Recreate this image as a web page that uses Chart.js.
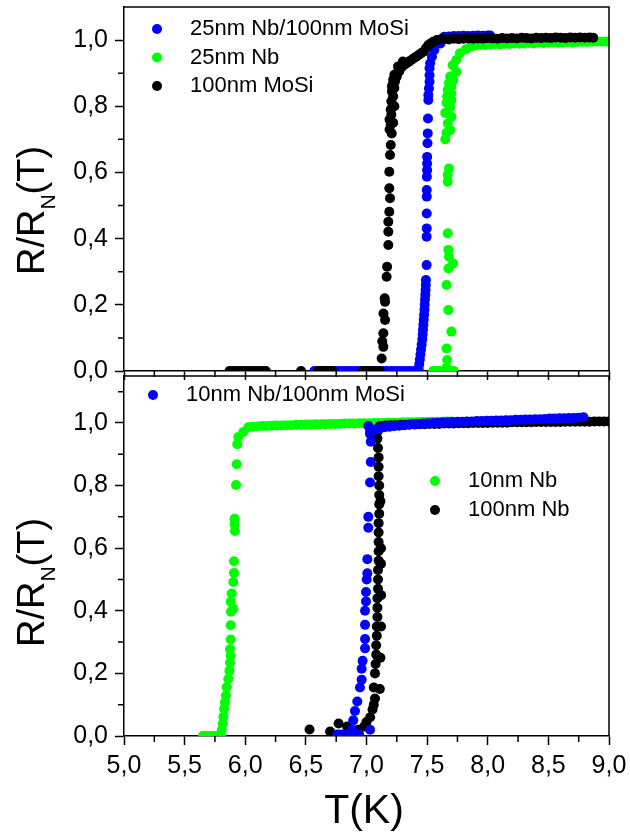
<!DOCTYPE html>
<html lang="en">
<head>
<meta charset="UTF-8">
<title>R/RN(T) transitions</title>
<script src="https://cdn.jsdelivr.net/npm/chart.js@4.4.0/dist/chart.umd.min.js"></script>
<style>
  body { margin: 0; background: #fff; }
  #wrap { position: relative; width: 630px; height: 832px; }
  #wrap canvas { position: absolute; left: 0; }
  #topCanvas { top: 0; }
  #bottomCanvas { top: 371px; }
</style>
</head>
<body>
<div id="wrap">
  <canvas id="bottomCanvas" width="630" height="461"></canvas>
  <canvas id="topCanvas" width="630" height="400"></canvas>
</div>
<script>
const FONT = '"Liberation Sans", Arial, sans-serif';
const BLUE = '#0000ff', GREEN = '#00ff00', BLACK = '#000000';

// axis ticks
const xMajorStep = 0.5;
const xMinorTicks = [5.25, 5.75, 6.25, 6.75, 7.25, 7.75, 8.25, 8.75];
const yMinorTop = [0.1, 0.3, 0.5, 0.7, 0.9];
const yMinorBottom = [0.1, 0.3, 0.5, 0.7, 0.9, 1.1];

// ---- top panel: [T (K), R/RN] ----
const nb25MoSi = [
  [6.57,0],[6.60,0],[6.63,0],[6.66,0],[6.69,0],[6.72,0],[6.75,0],[6.78,0],[6.81,0],[6.84,0],[6.87,0],[6.90,0],
  [6.93,0],[6.96,0],[6.99,0],[7.02,0],[7.05,0],[7.08,0],[7.11,0],[7.14,0],[7.17,0],[7.20,0],[7.23,0],[7.26,0],
  [7.29,0],[7.32,0],[7.35,0],[7.38,0],[7.41,0],
  [7.43,0.005],[7.435,0.02],[7.44,0.035],[7.445,0.05],[7.45,0.065],[7.455,0.08],[7.46,0.095],[7.463,0.11],
  [7.466,0.125],[7.469,0.14],[7.472,0.155],[7.475,0.17],[7.478,0.185],[7.48,0.20],[7.482,0.215],[7.485,0.23],
  [7.487,0.245],[7.489,0.26],[7.49,0.275],
  [7.496,0.32],[7.496,0.406],[7.497,0.431],[7.497,0.476],[7.497,0.527],[7.497,0.547],[7.498,0.587],[7.5,0.607],
  [7.5,0.627],[7.5,0.647],[7.503,0.688],[7.505,0.718],[7.507,0.763],[7.51,0.819],[7.51,0.834],[7.515,0.854],
  [7.52,0.874],[7.52,0.894],[7.52,0.915],[7.525,0.93],[7.54,0.95],[7.56,0.97],[7.61,0.99],
  [7.64,1.01],[7.68,1.011],[7.72,1.012],[7.76,1.012],[7.80,1.013],[7.84,1.012],[7.88,1.013],[7.92,1.014],
  [7.96,1.013],[8.00,1.014],[8.02,1.014]
];
const nb25 = [
  [7.55,0],[7.58,0],[7.61,0],[7.64,0],[7.67,0],[7.70,0],[7.72,0],
  [7.66,0.01],[7.665,0.033],[7.66,0.068],[7.70,0.119],[7.675,0.184],[7.66,0.26],[7.675,0.31],[7.715,0.325],
  [7.68,0.345],[7.675,0.366],[7.67,0.416],[7.67,0.572],[7.67,0.592],[7.68,0.612],[7.65,0.70],[7.66,0.72],
  [7.69,0.728],[7.67,0.748],[7.70,0.768],[7.65,0.78],[7.69,0.798],[7.66,0.81],[7.70,0.819],[7.665,0.83],
  [7.70,0.839],[7.67,0.85],[7.70,0.859],[7.68,0.87],[7.715,0.879],[7.69,0.89],[7.74,0.904],[7.71,0.924],
  [7.74,0.94],[7.77,0.96],[7.82,0.972],[7.86,0.98],
  [7.90,0.984],[7.94,0.986],[7.98,0.985],[8.02,0.987],[8.06,0.988],[8.10,0.987],[8.14,0.989],[8.18,0.988],
  [8.22,0.99],[8.26,0.989],[8.30,0.99],[8.34,0.991],[8.38,0.99],[8.42,0.992],[8.46,0.991],[8.50,0.992],
  [8.54,0.993],[8.58,0.992],[8.62,0.993],[8.66,0.994],[8.70,0.993],[8.74,0.994],[8.78,0.995],[8.82,0.994],
  [8.86,0.995],[8.90,0.996],[8.94,0.995],[8.98,0.996]
];
const mosi100 = [
  [5.87,0],[5.90,0],[5.93,0],[5.96,0],[5.99,0],[6.02,0],[6.05,0],[6.08,0],[6.11,0],[6.14,0],[6.17,0],[6.46,0],
  [6.60,0],[6.63,0],[6.66,0],[6.69,0],[6.72,0],[6.97,0],[7.00,0],[7.03,0],[7.06,0],[7.09,0],[7.11,0],
  [7.125,0.038],[7.139,0.073],[7.13,0.09],[7.139,0.114],[7.153,0.154],[7.14,0.174],[7.153,0.209],[7.15,0.22],
  [7.166,0.285],[7.17,0.315],[7.18,0.381],[7.18,0.421],[7.18,0.451],[7.188,0.481],[7.194,0.522],[7.188,0.552],
  [7.188,0.602],[7.194,0.653],[7.2,0.683],[7.208,0.718],
  [7.19,0.73],[7.2,0.745],[7.19,0.76],[7.205,0.775],[7.2,0.79],[7.215,0.80],[7.205,0.815],[7.22,0.83],
  [7.21,0.845],[7.23,0.855],[7.215,0.865],[7.235,0.875],[7.22,0.88],[7.24,0.885],[7.23,0.895],[7.25,0.90],
  [7.21,0.86],[7.25,0.89],[7.27,0.91],[7.26,0.92],[7.30,0.935],[7.22,0.75],[7.23,0.80],
  [7.27,0.905],[7.29,0.918],[7.31,0.925],[7.33,0.93],[7.35,0.935],[7.37,0.94],[7.39,0.945],[7.41,0.95],
  [7.43,0.955],[7.45,0.96],[7.47,0.965],[7.49,0.975],[7.51,0.985],[7.53,0.99],[7.55,0.995],[7.58,1.0],[7.61,1.002],
  [7.64,1.003],[7.68,1.002],[7.72,1.004],[7.76,1.003],[7.80,1.004],[7.84,1.005],[7.88,1.004],[7.92,1.005],
  [7.96,1.004],[8.00,1.006],[8.04,1.005],[8.08,1.004],[8.12,1.006],[8.16,1.005],[8.20,1.006],[8.24,1.005],
  [8.28,1.007],[8.32,1.006],[8.36,1.005],[8.40,1.007],[8.44,1.006],[8.48,1.007],[8.52,1.006],[8.56,1.008],
  [8.60,1.007],[8.64,1.006],[8.68,1.008],[8.72,1.007],[8.76,1.008],[8.80,1.007],[8.84,1.008],[8.87,1.007]
];

// ---- bottom panel ----
const nb10MoSi = [
  [6.76,0.005],[6.79,0.005],[6.82,0.005],[6.85,0.005],[6.88,0.005],[6.91,0.005],[6.94,0.005],
  [6.88,0.02],[6.891,0.05],[6.905,0.08],[6.924,0.11],[6.946,0.155],[6.96,0.18],[6.96,0.215],[6.968,0.24],
  [6.988,0.28],[6.988,0.31],[6.988,0.355],[6.988,0.40],[6.996,0.43],[6.996,0.46],[7.002,0.50],[7.007,0.52],
  [7.007,0.565],[7.015,0.665],[7.015,0.70],[7.029,0.81],[7.035,0.875],[7.035,0.94],[7.029,0.965],[7.015,0.99],
  [7.029,0.02],
  [7.03,0.972],[7.07,0.978],[7.11,0.983],[7.15,0.986],[7.19,0.988],[7.23,0.99],[7.27,0.991],[7.31,0.993],
  [7.35,0.994],[7.39,0.996],[7.43,0.997],[7.47,0.998],[7.51,0.999],[7.55,1.0],[7.59,1.001],[7.63,1.002],
  [7.67,1.002],[7.71,1.003],[7.75,1.004],[7.79,1.004],[7.83,1.005],[7.87,1.005],[7.91,1.006],[7.95,1.006],
  [7.99,1.007],[8.03,1.007],[8.07,1.008],[8.11,1.008],[8.15,1.009],[8.19,1.009],[8.23,1.010],[8.27,1.010],
  [8.31,1.011],[8.35,1.011],[8.39,1.012],[8.43,1.012],[8.47,1.013],[8.51,1.014],[8.55,1.014],[8.59,1.015],
  [8.63,1.015],[8.67,1.016],[8.71,1.016],[8.75,1.017],[8.79,1.018]
];
const nb10 = [
  [5.65,0],[5.68,0],[5.71,0],[5.74,0],[5.77,0],[5.80,0],
  [5.806,0.019],[5.815,0.04],[5.82,0.061],[5.825,0.087],[5.833,0.108],[5.841,0.129],[5.847,0.156],[5.86,0.182],
  [5.869,0.208],[5.874,0.234],[5.88,0.256],[5.874,0.277],[5.88,0.308],[5.88,0.354],[5.882,0.397],[5.901,0.406],
  [5.88,0.429],[5.888,0.455],[5.901,0.492],[5.907,0.521],[5.907,0.558],[5.915,0.655],[5.912,0.676],[5.912,0.694],
  [5.924,0.802],[5.929,0.868],[5.934,0.932],[5.943,0.955],[5.984,0.971],[6.025,0.986],
  [6.06,0.988],[6.10,0.989],[6.14,0.99],[6.18,0.99],[6.22,0.991],[6.26,0.992],[6.30,0.992],[6.34,0.993],
  [6.38,0.993],[6.42,0.994],[6.46,0.994],[6.50,0.995],[6.54,0.995],[6.58,0.996],[6.62,0.996],[6.66,0.996],
  [6.70,0.997],[6.74,0.997],[6.78,0.997],[6.82,0.998],[6.86,0.998],[6.90,0.998],[6.94,0.999],[6.98,0.999],
  [7.02,0.999],[7.06,1.0],[7.10,1.0],[7.14,1.0],[7.18,1.001],[7.22,1.001],[7.26,1.001],[7.30,1.002],
  [7.34,1.002],[7.38,1.002],[7.42,1.003],[7.46,1.003],[7.50,1.003],[7.54,1.004],[7.58,1.004],[7.62,1.004],
  [7.66,1.005],[7.70,1.005]
];
const nb100 = [
  [6.53,0.021],[6.70,0.014],[6.77,0.04],[6.84,0.03],[6.93,0.02],[6.98,0.03],[7.0,0.045],
  [7.03,0.06],[7.05,0.085],[7.06,0.10],[7.07,0.12],[7.06,0.155],[7.07,0.20],[7.075,0.23],[7.08,0.26],
  [7.08,0.29],[7.085,0.32],[7.085,0.35],[7.09,0.38],[7.09,0.41],[7.09,0.44],[7.095,0.47],[7.095,0.50],
  [7.095,0.53],[7.1,0.56],[7.1,0.59],[7.1,0.62],[7.1,0.65],[7.1,0.68],[7.105,0.71],[7.105,0.74],
  [7.105,0.77],[7.105,0.80],[7.1,0.83],[7.1,0.86],[7.1,0.89],[7.095,0.92],[7.09,0.95],[7.095,0.975],[7.11,0.99],
  [7.11,0.15],[7.115,0.25],[7.12,0.35],[7.12,0.45],[7.12,0.55],[7.12,0.60],[7.115,0.75],
  [7.12,0.99],[7.16,0.992],[7.20,0.993],[7.24,0.993],[7.28,0.994],[7.32,0.994],[7.36,0.995],[7.40,0.995],
  [7.44,0.996],[7.48,0.996],[7.52,0.997],[7.56,0.997],[7.60,0.997],[7.64,0.998],[7.68,0.998],[7.72,0.998],
  [7.76,0.999],[7.80,0.999],[7.84,0.999],[7.88,1.0],[7.92,1.0],[7.96,1.0],[8.00,1.0],[8.04,1.001],
  [8.08,1.001],[8.12,1.001],[8.16,1.001],[8.20,1.002],[8.24,1.002],[8.28,1.002],[8.32,1.002],[8.36,1.002],
  [8.40,1.003],[8.44,1.003],[8.48,1.003],[8.52,1.003],[8.56,1.003],[8.60,1.003],[8.64,1.004],[8.68,1.004],
  [8.72,1.004],[8.76,1.004],[8.80,1.004],[8.84,1.004],[8.88,1.005],[8.92,1.005],[8.96,1.005],[9.00,1.005]
];

function comma(v) { return v.toFixed(1).replace('.', ','); }
function pts(arr) { return arr.map(p => ({ x: p[0], y: p[1] })); }
function series(label, data, color) {
  return { label, data: pts(data), backgroundColor: color, pointRadius: 5, pointBorderWidth: 0,
           pointHoverRadius: 5, showLine: false, clip: 0 };
}

// frame, minor ticks, legend and axis titles
const decor = {
  id: 'decor',
  afterDraw(chart, args, o) {
    const ctx = chart.ctx, a = chart.chartArea, xs = chart.scales.x, ys = chart.scales.y;
    ctx.save();
    ctx.strokeStyle = '#000';
    ctx.lineWidth = 1.5;
    ctx.beginPath();
    ctx.moveTo(a.left, a.top); ctx.lineTo(a.right, a.top); ctx.lineTo(a.right, a.bottom);
    o.yMinor.forEach(v => { const p = ys.getPixelForValue(v); ctx.moveTo(a.left - 6, p); ctx.lineTo(a.left, p); });
    o.xMinor.forEach(v => { const p = xs.getPixelForValue(v); ctx.moveTo(p, a.bottom); ctx.lineTo(p, a.bottom + 6); });
    ctx.stroke();

    ctx.font = '22px ' + FONT;
    ctx.textBaseline = 'middle';
    ctx.textAlign = 'left';
    o.legend.forEach(item => {
      const ds = chart.data.datasets[item.index];
      ctx.fillStyle = ds.backgroundColor;
      ctx.beginPath(); ctx.arc(item.x, item.y, 5, 0, Math.PI * 2); ctx.fill();
      ctx.fillStyle = '#000';
      ctx.fillText(ds.label, item.x + 33, item.y);
    });

    if (o.xTitle) {
      ctx.font = '41px ' + FONT;
      ctx.textAlign = 'center';
      ctx.textBaseline = 'alphabetic';
      ctx.fillText('T(K)', o.xTitle.x, o.xTitle.y);
    }

    // R/R_N(T), rotated
    ctx.translate(o.yTitle.x, o.yTitle.y);
    ctx.rotate(-Math.PI / 2);
    ctx.textAlign = 'left';
    ctx.textBaseline = 'alphabetic';
    ctx.fillStyle = '#000';
    ctx.font = '38px ' + FONT;
    ctx.fillText('R/R', 0, 0);
    let w = ctx.measureText('R/R').width;
    ctx.font = '21px ' + FONT;
    ctx.fillText('N', w, 11);
    w += ctx.measureText('N').width;
    ctx.font = '38px ' + FONT;
    ctx.fillText('(T)', w, 0);
    ctx.restore();
  }
};

function axes(yMax, showXLabels, xHeight) {
  const grid = { drawOnChartArea: false, drawTicks: true, tickLength: 9, tickWidth: 1.5, tickColor: '#000' };
  const border = { display: true, color: '#000', width: 1.5 };
  return {
    x: {
      type: 'linear', min: 5, max: 9, grid, border,
      ticks: { stepSize: xMajorStep, display: showXLabels, padding: 6, color: '#000',
               font: { family: FONT, size: 25 }, callback: comma },
      afterFit(s) { s.height = xHeight; s.paddingLeft = 0; s.paddingRight = 0; }
    },
    y: {
      type: 'linear', min: 0, max: yMax, grid, border,
      ticks: { stepSize: 0.2, includeBounds: false, padding: 7, color: '#000',
               font: { family: FONT, size: 25 }, callback: comma },
      afterFit(s) { s.width = 124; s.paddingTop = 0; s.paddingBottom = 0; }
    }
  };
}

new Chart(document.getElementById('topCanvas'), {
  type: 'scatter',
  data: {
    datasets: [
      series('100nm MoSi', mosi100, BLACK),
      series('25nm Nb', nb25, GREEN),
      series('25nm Nb/100nm MoSi', nb25MoSi, BLUE)
    ]
  },
  options: {
    responsive: false, animation: false, devicePixelRatio: 1, events: [],
    layout: { padding: { left: 0, right: 21, top: 7, bottom: 19 } },
    scales: axes(1.1, false, 10),
    plugins: {
      legend: { display: false }, tooltip: { enabled: false },
      decor: {
        xMinor: xMinorTicks, yMinor: yMinorTop,
        legend: [{ index: 2, x: 157, y: 29 }, { index: 1, x: 157, y: 57.5 }, { index: 0, x: 157, y: 86 }],
        yTitle: { x: 44, y: 275 }
      }
    }
  },
  plugins: [decor]
});

new Chart(document.getElementById('bottomCanvas'), {
  type: 'scatter',
  data: {
    datasets: [
      series('10nm Nb/100nm MoSi', nb10MoSi, BLUE),
      series('100nm Nb', nb100, BLACK),
      series('10nm Nb', nb10, GREEN)
    ]
  },
  options: {
    responsive: false, animation: false, devicePixelRatio: 1, events: [],
    layout: { padding: { left: 0, right: 21, top: 0, bottom: 36 } },
    scales: axes(1.15, true, 60),
    plugins: {
      legend: { display: false }, tooltip: { enabled: false },
      decor: {
        xMinor: xMinorTicks, yMinor: yMinorBottom,
        legend: [{ index: 0, x: 153, y: 24 }, { index: 2, x: 435, y: 110 }, { index: 1, x: 435, y: 139 }],
        xTitle: { x: 364, y: 452 },
        yTitle: { x: 44, y: 276 }
      }
    }
  },
  plugins: [decor]
});
</script>
</body>
</html>
